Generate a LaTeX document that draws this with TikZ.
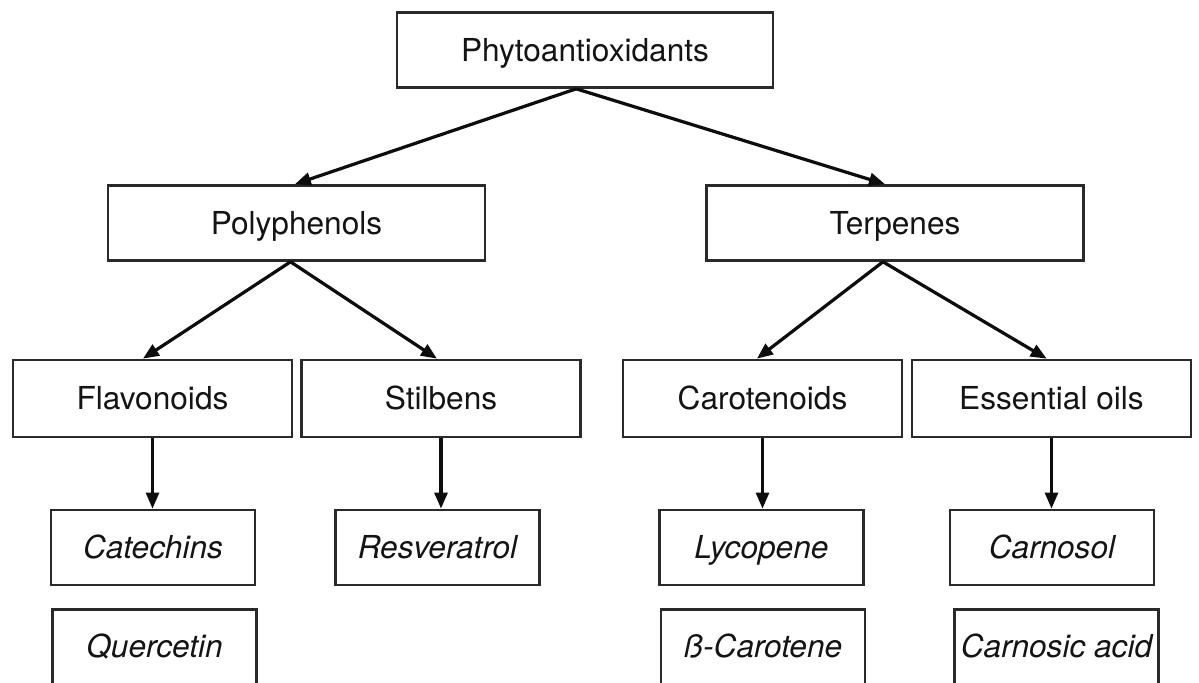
\documentclass[tikz,border=0pt]{standalone}
\usepackage{fontspec}
\setmainfont{TeX Gyre Heros}
\usepackage{xcolor}
\usetikzlibrary{arrows.meta}
\definecolor{BoxLine}{HTML}{2A2A2A}
\definecolor{LinkInk}{HTML}{0D0D0D}

\begin{document}
\begin{tikzpicture}[x=0.025cm, y=-0.025cm,
    every node/.style={font=\fontsize{22.5}{26}\selectfont, text=black!92},
    box/.style={draw=BoxLine, line width=2pt, inner sep=0pt,
                minimum height=1.87cm, text height=16.2pt, text depth=0pt},
    leaf/.style={box, minimum width=5.1cm, font=\fontsize{22.5}{26}\selectfont\itshape},
    link/.style={-{Triangle[length=0.4cm, width=0.32cm]}, line width=2.3pt, LinkInk}]
    \useasboundingbox (0,0) rectangle (1199,683);
    % top and first level
    \node[box, minimum width=9.4cm] (phyto) at (585,50) {Phytoantioxidants};
    \node[box, minimum width=9.42cm] (poly) at (296.5,223) {Polyphenols};
    \node[box, minimum width=9.42cm] (terp) at (895,223) {Terpenes};
    % second level
    \foreach \name/\label/\x in {flav/Flavonoids/152.5, stil/Stilbens/441,
                                caro/Carotenoids/762.5, esso/Essential oils/1051.5} {
      \node[box, minimum width=6.97cm, minimum height=1.92cm] (\name) at (\x,398.5) {\label};
    }
    % compounds
    \foreach \name/\label/\x in {cate/Catechins/153, resv/Resveratrol/437.5,
                                lyco/Lycopene/761.5, carn/Carnosol/1052} {
      \node[leaf] (\name) at (\x,547.5) {\label};
    }
    \foreach \name/\label/\x in {quer/Quercetin/154.5, beta/ß-Carotene/763,
                                cacd/Carnosic acid/1056.5} {
      \node[leaf] (\name) at (\x,646.5) {\label};
    }
    % connectors
    \draw[link] ([xshift=-0.22cm]phyto.south) -- ([xshift=-0.04cm]poly.north);
    \draw[link] ([xshift=-0.22cm]phyto.south) -- ([xshift=-0.25cm]terp.north);
    \draw[link] ([xshift=-0.15cm]poly.south) -- ([xshift=-0.24cm]flav.north);
    \draw[link] ([xshift=-0.15cm]poly.south) -- ([xshift=-0.1cm]stil.north);
    \draw[link] ([xshift=-0.3cm]terp.south) -- ([xshift=-0.14cm]caro.north);
    \draw[link] ([xshift=-0.3cm]terp.south) -- ([xshift=-0.12cm]esso.north);
    \foreach \up/\down in {flav/cate, stil/resv, caro/lyco, esso/carn} {
      \draw[link] (\up.south) -- (\up.south |- \down.north);
    }
\end{tikzpicture}
\end{document}
